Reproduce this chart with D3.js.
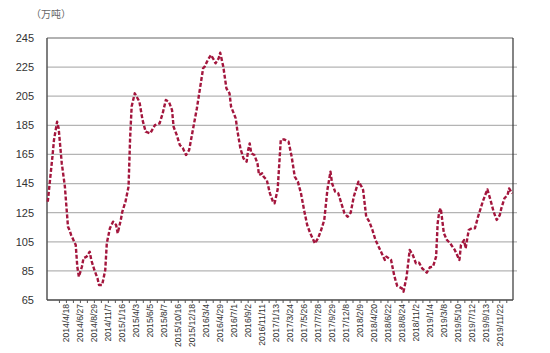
<!DOCTYPE html>
<html><head><meta charset="utf-8">
<script src="https://cdn.jsdelivr.net/npm/d3@7/dist/d3.min.js"></script>
<style>body{margin:0;background:#fff}svg{display:block}</style>
</head><body>
<svg id="c" width="550" height="353"></svg>
<script>
const unitLabel = "（万吨）";
const yTicks = [65, 85, 105, 125, 145, 165, 185, 205, 225, 245];
const categoryCount = 300;
const tickLabels = ["2014/4/18","2014/6/27","2014/8/29","2014/11/7","2015/1/16","2015/4/3","2015/6/5","2015/8/7","2015/10/16","2015/12/18","2016/3/4","2016/4/29","2016/7/1","2016/9/2","2016/11/11","2017/1/13","2017/3/24","2017/5/26","2017/7/28","2017/9/29","2017/12/8","2018/2/9","2018/4/20","2018/6/22","2018/8/24","2018/11/2","2019/1/4","2019/3/8","2019/5/10","2019/7/12","2019/9/13","2019/11/22"];
const tickLabelIndex = [12,21,30,39,48,57,66,75,84,93,102,111,120,129,138,147,156,165,174,183,192,201,210,219,228,237,246,255,264,273,282,291];
const pointIndex = [0,3,4,6,7,9,11,13,14,15,18,19,20,22,23,25,27,28,30,32,33,35,37,38,40,42,44,45,47,48,50,52,53,54,56,59,61,63,66,69,72,74,76,78,80,81,83,85,87,89,91,93,95,96,98,100,101,103,105,107,108,110,111,113,115,117,118,121,122,124,126,128,129,130,131,133,135,136,138,139,141,143,145,146,148,150,152,155,157,159,161,163,165,167,169,172,174,176,178,180,182,183,185,187,189,191,193,195,197,200,202,203,205,207,209,211,213,216,217,218,221,223,224,225,228,229,231,232,233,235,237,239,241,244,246,248,250,251,252,253,255,257,259,262,265,266,268,269,271,273,275,277,280,283,285,287,289,291,292,294,296,297,299];
const pointValue = [132.5,163.5,175,187.5,183,159,143,115.4,113,109.7,102.8,87.9,81,88,93.7,94.8,98.2,92.5,85.6,79.9,75.3,75.3,85.6,104,114.3,118.8,116.5,110.8,120,125.7,132.5,142.9,176,198,207,201.2,188.7,180.6,179.5,185.2,186.4,193.3,202.4,201.2,195.5,184,178.4,171.5,169.2,164.6,168,179.5,191,196.7,210.4,224.2,225.3,229.9,233.3,229.9,227.6,231,234.9,225.3,210.4,207,197.8,189.8,181.8,169.2,162.3,160,168,172.6,165.8,164.6,158.9,150.9,152,149.7,147.4,138.3,132.5,131.4,141,175,175.4,173.8,163.5,149.7,146.3,138.3,126.8,116.5,110.8,103.9,107.4,113.1,120,140.6,153.2,145.2,139.4,138.3,131.4,124.6,122.2,125,136,146.3,142.9,140.6,122.2,118.8,113.1,106.2,101.6,94.8,92.5,94.8,92.5,82,78,74.6,73,70.7,81,90.2,99.4,95.9,90.2,90.7,86.8,83.8,87.5,87.9,94.8,117.7,125.7,128,110.8,106.2,104,99.4,92.5,102.8,106.2,100.5,113.1,114.3,114.3,122.2,132.5,141,133.7,125.7,120,123.4,128,134.9,137.1,141.7,138.3];

const svg = d3.select("#c");
const L = 47, R = 513, T = 38, B = 300;
const x = d3.scaleLinear().domain([0, categoryCount]).range([L, R]);
const xc = i => x(i + 0.5);
const y = d3.scaleLinear().domain([65, 245]).range([B, T]);

// gridlines
svg.append("g").selectAll("line").data(yTicks.filter(v => v !== 65 && v !== 245)).join("line")
  .attr("x1", L).attr("x2", R + 4).attr("y1", d => y(d)).attr("y2", d => y(d))
  .attr("stroke", "#b4b4b4").attr("stroke-width", 1.2);

// frame
svg.append("line").attr("x1", L).attr("x2", R).attr("y1", T).attr("y2", T).attr("stroke", "#666").attr("stroke-width", 1.2);
svg.append("line").attr("x1", R).attr("x2", R).attr("y1", T).attr("y2", B).attr("stroke", "#333").attr("stroke-width", 1.2);
svg.append("line").attr("x1", L).attr("x2", L).attr("y1", T).attr("y2", B).attr("stroke", "#555").attr("stroke-width", 1.5);
svg.append("line").attr("x1", L).attr("x2", R).attr("y1", B).attr("y2", B).attr("stroke", "#444").attr("stroke-width", 1.5);

// y labels
svg.append("g").selectAll("text").data(yTicks).join("text")
  .attr("x", 34).attr("y", d => y(d)).attr("dy", "0.35em")
  .attr("text-anchor", "end").attr("font-family", "Liberation Sans, Arial, sans-serif")
  .attr("font-size", 11).attr("fill", "#333").text(d => d);

// x ticks (at labels and midway)
const tickPos = [];
tickLabelIndex.forEach(i => { tickPos.push(i); tickPos.push(i + 4.5); });
tickPos.unshift(tickLabelIndex[0] - 4.5);
svg.append("g").selectAll("line").data(tickPos).join("line")
  .attr("x1", d => xc(d)).attr("x2", d => xc(d)).attr("y1", B).attr("y2", B + 3)
  .attr("stroke", "#555").attr("stroke-width", 1);

// x labels
svg.append("g").selectAll("text").data(tickLabels).join("text")
  .attr("transform", (d, k) => `translate(${xc(tickLabelIndex[k])},${B + 4}) rotate(-90)`)
  .attr("dy", "0.35em").attr("text-anchor", "end")
  .attr("font-family", "Liberation Sans, Arial, sans-serif").attr("font-size", 8.6)
  .attr("fill", "#333").text(d => d);

// unit
svg.append("text").attr("x", 31).attr("y", 18).style("font-family", "'Noto Sans CJK SC', sans-serif")
  .attr("font-size", 10).attr("fill", "#666").text(unitLabel);

// line
const data = pointIndex.map((i, k) => [i, pointValue[k]]);
svg.append("path").datum(data)
  .attr("d", d3.line().x(d => xc(d[0])).y(d => y(d[1])))
  .attr("fill", "none").attr("stroke", "#a3163d").attr("stroke-width", 2.4)
  .attr("stroke-dasharray", "4,2").attr("stroke-linejoin", "round");
</script>
</body></html>
